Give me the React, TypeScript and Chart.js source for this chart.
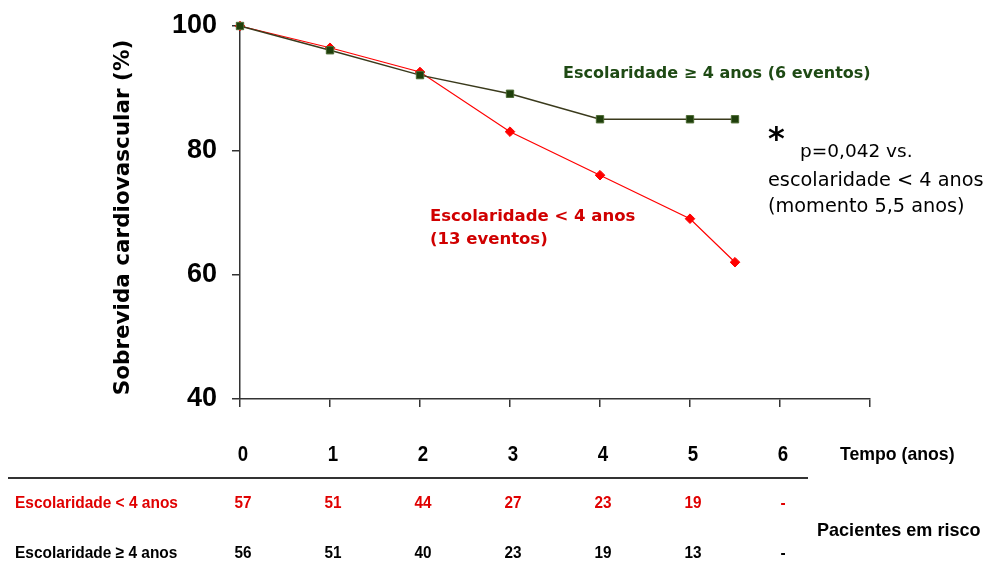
import React, { useEffect, useRef } from 'react';
import { Chart, registerables } from 'chart.js';

Chart.register(...registerables);

// ---- data ----
const years = [0, 1, 2, 3, 4, 5, 5.5];
const survivalHigh = [100, 96.1, 92.1, 89.1, 85, 85, 85]; // Escolaridade >= 4 anos
const survivalLow = [100, 96.5, 92.6, 83, 76, 69, 62]; // Escolaridade < 4 anos
const yTicks = [40, 60, 80, 100];
const xTicks = [0, 1, 2, 3, 4, 5, 6, 7];
const tableYears = ['0', '1', '2', '3', '4', '5', '6'];
const atRiskLow = ['57', '51', '44', '27', '23', '19', '-'];
const atRiskHigh = ['56', '51', '40', '23', '19', '13', '-'];

const labelHigh = 'Escolaridade \u2265 4 anos (6 eventos)';
const labelLowLines = ['Escolaridade < 4 anos', '(13 eventos)'];
const pLines = ['p=0,042 vs.', 'escolaridade < 4 anos', '(momento 5,5 anos)'];
const rowLowLabel = 'Escolaridade < 4 anos';
const rowHighLabel = 'Escolaridade \u2265 4 anos';
const yTitle = 'Sobrevida cardiovascular (%)';

const ARIAL = '"Liberation Sans", Arial, sans-serif';
const HAND = '"DejaVu Sans", Verdana, sans-serif';

function narrowText(ctx: CanvasRenderingContext2D, text: string, x: number, y: number, sx: number) {
  ctx.save();
  ctx.translate(x, y);
  ctx.scale(sx, 1);
  ctx.fillText(text, 0, 0);
  ctx.restore();
}

const overlayPlugin = {
  id: 'overlay',
  afterDraw(chart: any) {
    const ctx = chart.ctx;
    const xs = chart.scales.x;
    const area = chart.chartArea;
    ctx.save();
    ctx.textBaseline = 'middle';

    // y axis title (centred a little below the plot centre, as in the original)
    ctx.save();
    ctx.translate(123, (area.top + area.bottom) / 2 + 5);
    ctx.rotate(-Math.PI / 2);
    ctx.textAlign = 'center';
    ctx.fillStyle = '#000';
    ctx.font = `bold 21.5px ${HAND}`;
    ctx.fillText(yTitle, 0, 0);
    ctx.restore();

    // annotations
    ctx.textAlign = 'left';
    ctx.fillStyle = '#1e4a14';
    ctx.font = `bold 16px ${HAND}`;
    ctx.fillText(labelHigh, 563, 74);

    ctx.fillStyle = '#d00000';
    ctx.font = `bold 16.5px ${HAND}`;
    ctx.fillText(labelLowLines[0], 430, 217);
    ctx.fillText(labelLowLines[1], 430, 240);

    ctx.fillStyle = '#000';
    ctx.font = `bold 32px ${HAND}`;
    ctx.fillText('*', 768, 141);
    ctx.font = `18.5px ${HAND}`;
    ctx.fillText(pLines[0], 800, 152);
    ctx.font = `19.3px ${HAND}`;
    ctx.fillText(pLines[1], 768, 181);
    ctx.fillText(pLines[2], 768, 207);

    // risk table
    ctx.fillStyle = '#000';
    ctx.textAlign = 'center';
    ctx.font = `bold 22px ${ARIAL}`;
    tableYears.forEach((t, i) => narrowText(ctx, t, xs.getPixelForValue(i) + 3, 455, 0.85));
    ctx.textAlign = 'left';
    ctx.font = `bold 19px ${ARIAL}`;
    narrowText(ctx, 'Tempo (anos)', 840, 455, 0.93);
    narrowText(ctx, 'Pacientes em risco', 817, 531, 0.95);

    ctx.strokeStyle = '#333';
    ctx.lineWidth = 2;
    ctx.beginPath();
    ctx.moveTo(8, 478);
    ctx.lineTo(808, 478);
    ctx.stroke();

    ctx.font = `bold 17px ${ARIAL}`;
    ctx.fillStyle = '#e00000';
    ctx.textAlign = 'left';
    narrowText(ctx, rowLowLabel, 15, 503, 0.91);
    ctx.textAlign = 'center';
    atRiskLow.forEach((t, i) => narrowText(ctx, t, xs.getPixelForValue(i) + 3, 503, 0.9));

    ctx.fillStyle = '#000';
    ctx.textAlign = 'left';
    narrowText(ctx, rowHighLabel, 15, 553, 0.91);
    ctx.textAlign = 'center';
    atRiskHigh.forEach((t, i) => narrowText(ctx, t, xs.getPixelForValue(i) + 3, 553, 0.9));

    ctx.restore();
  },
};

export default function App() {
  const ref = useRef<HTMLCanvasElement>(null);
  useEffect(() => {
    if (!ref.current) return;
    const chart = new Chart(ref.current, {
      type: 'line',
      data: {
        datasets: [
          {
            label: 'Escolaridade >= 4 anos',
            data: years.map((x, i) => ({ x, y: survivalHigh[i] })),
            borderColor: '#3a3a1c',
            borderWidth: 1.5,
            backgroundColor: '#1f3f0c',
            pointStyle: 'rect',
            pointRadius: 5.2,
            pointBorderColor: '#4d6b33',
            pointBorderWidth: 1,
            pointBackgroundColor: '#1f3f0c',
            tension: 0,
            clip: false,
          },
          {
            label: 'Escolaridade < 4 anos',
            data: years.map((x, i) => ({ x, y: survivalLow[i] })),
            borderColor: '#ff0000',
            borderWidth: 1.2,
            backgroundColor: '#ff0000',
            pointStyle: 'rectRot',
            pointRadius: 4.8,
            pointBorderColor: '#ff0000',
            pointBorderWidth: 1,
            pointBackgroundColor: '#ff0000',
            tension: 0,
            clip: false,
          },
        ],
      },
      options: {
        responsive: false,
        animation: false,
        layout: { padding: { left: 0, top: 26, right: 122, bottom: 172 } },
        plugins: { legend: { display: false }, tooltip: { enabled: false } },
        scales: {
          x: {
            type: 'linear',
            min: 0,
            max: 7,
            afterBuildTicks: (s: any) => { s.ticks = xTicks.map((v) => ({ value: v })); },
            afterFit: (s: any) => { s.height = 0; s.paddingLeft = 0; s.paddingRight = 0; },
            ticks: { display: false },
            grid: { drawOnChartArea: false, drawTicks: true, tickLength: 8, color: '#333', lineWidth: 1.5 },
            border: { display: true, color: '#333', width: 1.5 },
          },
          y: {
            type: 'linear',
            min: 40,
            max: 100,
            afterBuildTicks: (s: any) => { s.ticks = yTicks.map((v) => ({ value: v })); },
            afterFit: (s: any) => { s.width = 240; s.paddingTop = 0; s.paddingBottom = 0; },
            ticks: {
              color: '#000',
              padding: 15,
              font: { family: ARIAL, size: 27, weight: 'bold' },
            },
            grid: { drawOnChartArea: false, drawTicks: true, tickLength: 8, color: '#333', lineWidth: 1.5 },
            border: { display: true, color: '#333', width: 1.5 },
          },
        },
      },
      plugins: [overlayPlugin],
    });
    return () => chart.destroy();
  }, []);
  return (
    <div style={{ position: 'fixed', left: 0, top: 0, width: 992, height: 571, background: '#fff' }}>
      <canvas ref={ref} width={992} height={571} style={{ display: 'block' }} />
    </div>
  );
}
